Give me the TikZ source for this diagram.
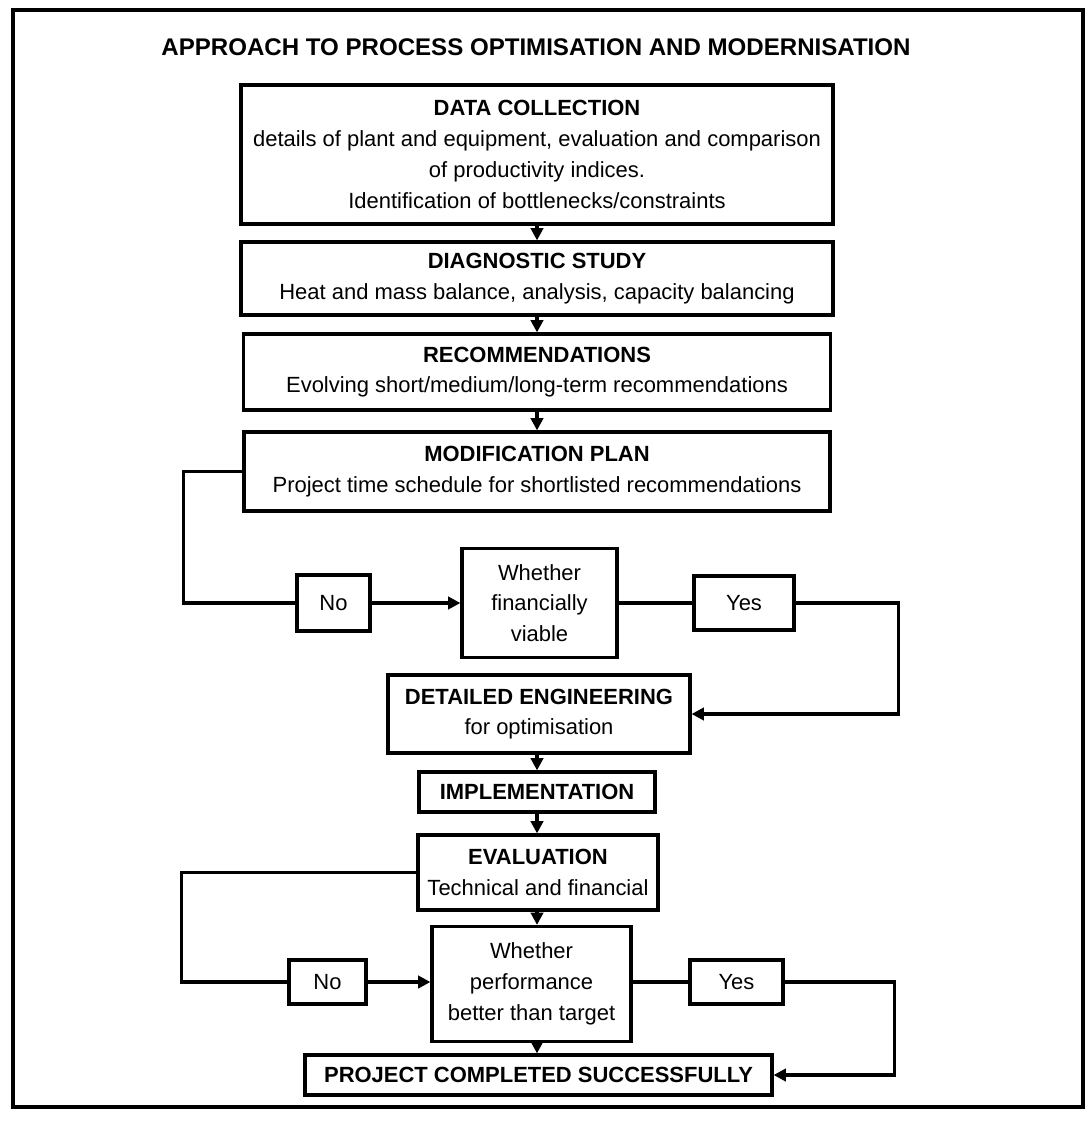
\documentclass[tikz,border=0pt]{standalone}
\usepackage{fontspec}
\setmainfont{Liberation Sans}
\usetikzlibrary{arrows.meta}
\begin{document}
\begin{tikzpicture}[
    every path/.style={line width=1.8pt},
    box/.style={draw, align=center, inner sep=0pt, font=\fontsize{12.5}{17.5}\selectfont},
    >={Triangle[length=7pt,width=7pt]}
  ]
  \useasboundingbox (0,0) rectangle (21.82,-22.44);
  \draw (0.26,-0.2) rectangle (21.66,-22.14);
  \draw
    (10.72,-0.94) node[font=\fontsize{13.7}{16}\selectfont\bfseries] (title){APPROACH TO PROCESS OPTIMISATION AND MODERNISATION}
    (10.74,-3.09) node[box, minimum width=11.84cm, minimum height=2.78cm] (data){\textbf{DATA COLLECTION}\\details of plant and equipment, evaluation and comparison\\of productivity indices.\\Identification of bottlenecks/constraints}
    (10.74,-5.57) node[box, minimum width=11.84cm, minimum height=1.46cm] (diag){\textbf{DIAGNOSTIC STUDY}\\Heat and mass balance, analysis, capacity balancing}
    (10.74,-7.44) node[box, minimum width=11.74cm, minimum height=1.52cm] (rec){\textbf{RECOMMENDATIONS}\\Evolving short/medium/long-term recommendations}
    (10.74,-9.43) node[box, minimum width=11.72cm, minimum height=1.58cm] (mod){\textbf{MODIFICATION PLAN}\\Project time schedule for shortlisted recommendations}
    (10.79,-12.06) node[box, minimum width=3.1cm, minimum height=2.18cm] (fin){Whether\\financially\\viable}
    (6.67,-12.06) node[box, minimum width=1.46cm, minimum height=1.12cm] (no1){No}
    (14.88,-12.06) node[box, minimum width=2.0cm, minimum height=1.08cm] (yes1){Yes}
    (10.78,-14.28) node[box, minimum width=6.04cm, minimum height=1.56cm] (det){\textbf{DETAILED ENGINEERING}\\for optimisation}
    (10.74,-15.84) node[box, minimum width=4.72cm, minimum height=0.8cm] (impl){\textbf{IMPLEMENTATION}}
    (10.76,-17.45) node[box, minimum width=4.8cm, minimum height=1.5cm] (eval){\textbf{EVALUATION}\\Technical and financial}
    (10.63,-19.68) node[box, minimum width=3.98cm, minimum height=2.3cm] (perf){Whether\\performance\\better than target}
    (6.55,-19.64) node[box, minimum width=1.54cm, minimum height=0.88cm] (no2){No}
    (14.73,-19.64) node[box, minimum width=1.86cm, minimum height=0.88cm] (yes2){Yes}
    (10.77,-21.5) node[box, minimum width=9.34cm, minimum height=0.8cm] (done){\textbf{PROJECT COMPLETED SUCCESSFULLY}};
  \begin{scope}[->]
    \draw (data) -- (diag);
    \draw (diag) -- (rec);
    \draw (rec) -- (mod);
    \draw (no1) -- (fin);
    \draw (yes1.east) -- ++(2.06,0) |- (det);
    \draw (det.south -| impl) -- (impl);
    \draw (impl) -- (eval.north -| impl);
    \draw (eval.south -| impl) -- (perf.north -| impl);
    \draw (no2) -- (no2 -| perf.west);
    \draw (yes2.east) -- ++(2.2,0) |- (done);
    \draw (perf.south -| impl) -- (done.north -| impl);
  \end{scope}
  \begin{scope}[-]
    \draw (mod.west) -- ++(-1.18,0) |- (no1);
    \draw (fin) -- (yes1);
    \draw (eval.west) -- ++(-4.7,0) |- (no2);
    \draw (perf.east |- yes2) -- (yes2);
  \end{scope}
\end{tikzpicture}
\end{document}
